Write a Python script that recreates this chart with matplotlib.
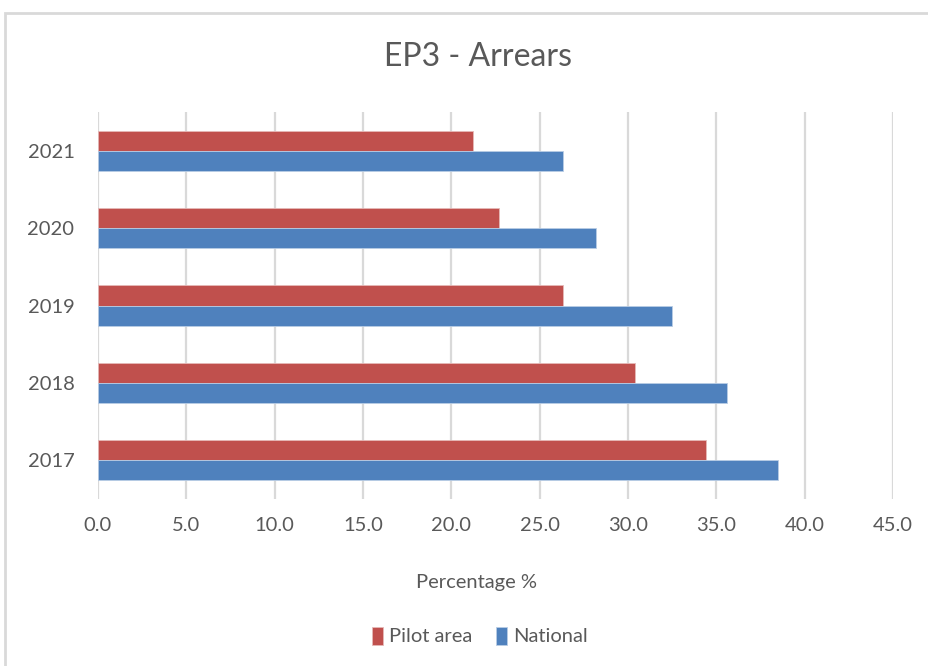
import matplotlib.pyplot as plt
import numpy as np
from matplotlib.patches import Rectangle

years = ['2017', '2018', '2019', '2020', '2021']
pilot_area = [34.4, 30.4, 26.3, 22.7, 21.2]
national = [38.5, 35.6, 32.5, 28.2, 26.3]
x_ticks = np.arange(0, 50, 5)

PILOT = '#C0504D'
NATIONAL = '#4F81BD'
GRID = '#D9D9D9'
TEXT = '#595959'

plt.rcParams['font.family'] = ['Lato', 'DejaVu Sans']

fig = plt.figure(figsize=(9.29, 6.66), dpi=100)
ax = fig.add_axes([98 / 929, 1 - 499 / 666, (893 - 98) / 929, (499 - 112) / 666])

y = np.arange(len(years))
h = 0.26
ax.barh(y + h / 2, pilot_area, height=h, color=PILOT, edgecolor='#E6B9B8',
        linewidth=0.6, label='Pilot area', zorder=3)
ax.barh(y - h / 2, national, height=h, color=NATIONAL, edgecolor='#B9CDE5',
        linewidth=0.6, label='National', zorder=3)

ax.set_xlim(0, 45)
ax.set_ylim(-0.5, len(years) - 0.5)
ax.set_xticks(x_ticks)
ax.set_xticklabels([f'{v:.1f}' for v in x_ticks])
ax.set_yticks(y)
ax.set_yticklabels(years)
ax.tick_params(axis='both', length=0, labelsize=14.5, colors=TEXT)
ax.tick_params(axis='x', pad=13)
ax.tick_params(axis='y', pad=17)
ax.xaxis.grid(True, color=GRID, linewidth=1.6, zorder=0)
for s in ax.spines.values():
    s.set_visible(False)

ax.set_xlabel('Percentage %', fontsize=14.5, color=TEXT)
ax.xaxis.set_label_coords((477 - 98) / 795, -0.194)
fig.text(478 / 929, 1 - 57 / 666, 'EP3 - Arrears', ha='center', va='center',
         fontsize=23, color=TEXT)

leg = fig.legend(loc='center', bbox_to_anchor=(480 / 929, 1 - 636 / 666), ncol=2,
                 frameon=False, fontsize=14.5, handlelength=0.55, handleheight=1.0,
                 handletextpad=0.3, columnspacing=1.2)
for t in leg.get_texts():
    t.set_color(TEXT)

# outer chart frame
fig.patches.append(Rectangle((5 / 929, -0.1), 1.1, 1 - 13 / 666 + 0.1,
                             transform=fig.transFigure, fill=False,
                             edgecolor=GRID, linewidth=2))

fig.savefig('out.png', dpi=100)
